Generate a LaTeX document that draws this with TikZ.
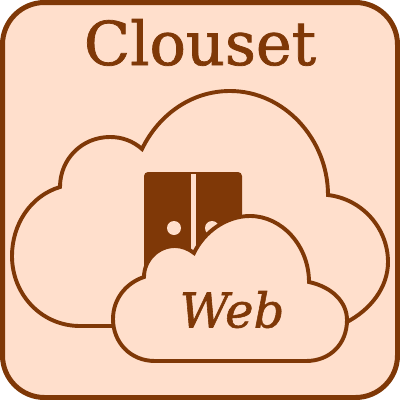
\documentclass[tikz,border=0pt]{standalone}
\usepackage{fontspec}
\setmainfont{DejaVu Serif}
\newfontfamily\slabfont[FakeBold=1.2]{DejaVu Serif}
\definecolor{brn}{HTML}{7F3807}
\definecolor{bgp}{HTML}{FFDFCC}
\tikzset{
  cloud line/.style={draw=brn,line width=3.9pt,fill=bgp,line join=miter},
  label text/.style={text=brn,inner sep=0pt,anchor=base}
}
\begin{document}
\begin{tikzpicture}[x=1pt,y=-1pt]
\useasboundingbox (0,0) rectangle (400,400);
\draw[draw=brn,fill=bgp,line width=5pt,rounded corners=42pt] (2.5,2.5) rectangle (397.5,397.5);
\node[label text,font=\slabfont\fontsize{60.5}{60.5}\selectfont] (title) at (200,65) {Clouset};
% big cloud
\draw[cloud line] (115,326) -- (80,326)
  .. controls (42,326) and (12,295) .. (12,256)
  .. controls (12,225) and (30,196) .. (60,187)
  .. controls (60,159) and (82,137) .. (110,137)
  .. controls (122,137) and (133,141) .. (142,149)
  .. controls (159,114) and (192,91) .. (230,91)
  .. controls (284,91) and (328,139) .. (328,195)
  .. controls (362,199) and (388,228) .. (388,262)
  .. controls (388,287) and (371,310) .. (345,323);
% door
\fill[brn,rounded corners=4pt] (144,172) rectangle (242,290);
\fill[bgp] (191,174) rectangle (196,285);
\fill[bgp] (174,228) circle (7pt);
\fill[bgp] (212,228) circle (7pt);
% web cloud
\draw[cloud line] (155,361)
  .. controls (130,361) and (113,342) .. (113,319)
  .. controls (113,299) and (126,283) .. (144,277)
  .. controls (144,260) and (158,246) .. (175,246)
  .. controls (182,246) and (189,249) .. (194,253)
  .. controls (204,232) and (226,216) .. (250,216)
  .. controls (282,216) and (309,246) .. (309,282)
  .. controls (332,287) and (347,302) .. (347,320)
  .. controls (347,344) and (330,361) .. (306,361)
  -- cycle;
\node[label text,font=\slabfont\itshape\fontsize{48}{48}\selectfont] (web) at (232,327.5) {Web};
\end{tikzpicture}
\end{document}
